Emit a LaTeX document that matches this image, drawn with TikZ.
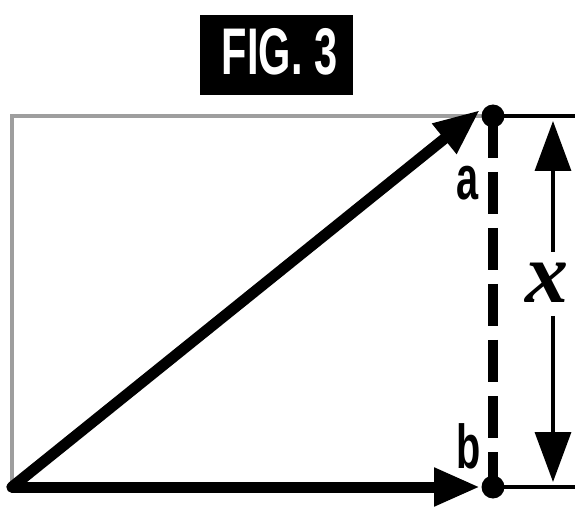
\documentclass[tikz,border=0pt]{standalone}
\usepackage{fontspec}
\setmainfont{Liberation Sans}
\newfontfamily\serifit{Liberation Serif}
\usetikzlibrary{arrows.meta}
\tikzset{
  thickarrow/.style={line width=11pt, -{Triangle[length=46pt,width=36pt]}},
  thinline/.style={line width=4pt},
  grayline/.style={line width=4pt, draw=black!38},
  dimarrow/.style={line width=3.5pt, -{Triangle[length=50pt,width=36pt]}},
  dotmark/.style={circle, fill=black, minimum size=23pt, inner sep=0pt},
  lettr/.style={font=\fontsize{62}{62}\selectfont\bfseries, inner sep=0pt, xscale=0.64},
}
\begin{document}
\begin{tikzpicture}[x=1pt,y=-1pt]
\useasboundingbox (0,0) rectangle (582,524);
% title
\node[fill=black, minimum width=153pt, minimum height=80pt, inner sep=0pt] (title) at (276.5,55) {};
\node[text=white, font=\fontsize{66}{66}\selectfont\bfseries, xscale=0.63, inner sep=0pt, anchor=base] (titletext) at (279.5,75) {FIG. 3};
% points
\coordinate (O) at (12,487);
\coordinate (TL) at (12,116);
\coordinate (RA) at (575,116);
\coordinate (RB) at (575,487);
\coordinate (TA) at (553,121);
\coordinate (TB) at (553,482);
% gray rectangle
\draw[grayline, line cap=round] (O) -- (TL) -- (493,116);
% dashed vertical
\draw[line width=10pt, dash pattern=on 42pt off 14pt] (493,116) -- (493,492);
% thick arrows
\node[dotmark] (A) at (493,116) {};
\node[dotmark] (B) at (493,487) {};
\draw[thickarrow, line cap=round] (O) -- ([xshift=-13pt,yshift=6pt]A.center);
\draw[thickarrow, line cap=round] (O) -- ([xshift=-13pt]B.center);
% thin horizontal lines
\draw[thinline] (A.center) -- (RA);
\draw[thinline] (B.center) -- (RB);
% labels
\node[lettr, anchor=base] (la) at (468,200) {a};
\node[lettr, anchor=base] (lb) at (469,468) {b};
\node[font=\serifit\fontsize{86}{86}\selectfont\bfseries\itshape, inner sep=0pt, anchor=base] (lx) at (547,303) {x};
% dimension arrow
\draw[dimarrow] (553,252) -- (TA);
\draw[dimarrow] (553,316) -- (TB);
\end{tikzpicture}
\end{document}
